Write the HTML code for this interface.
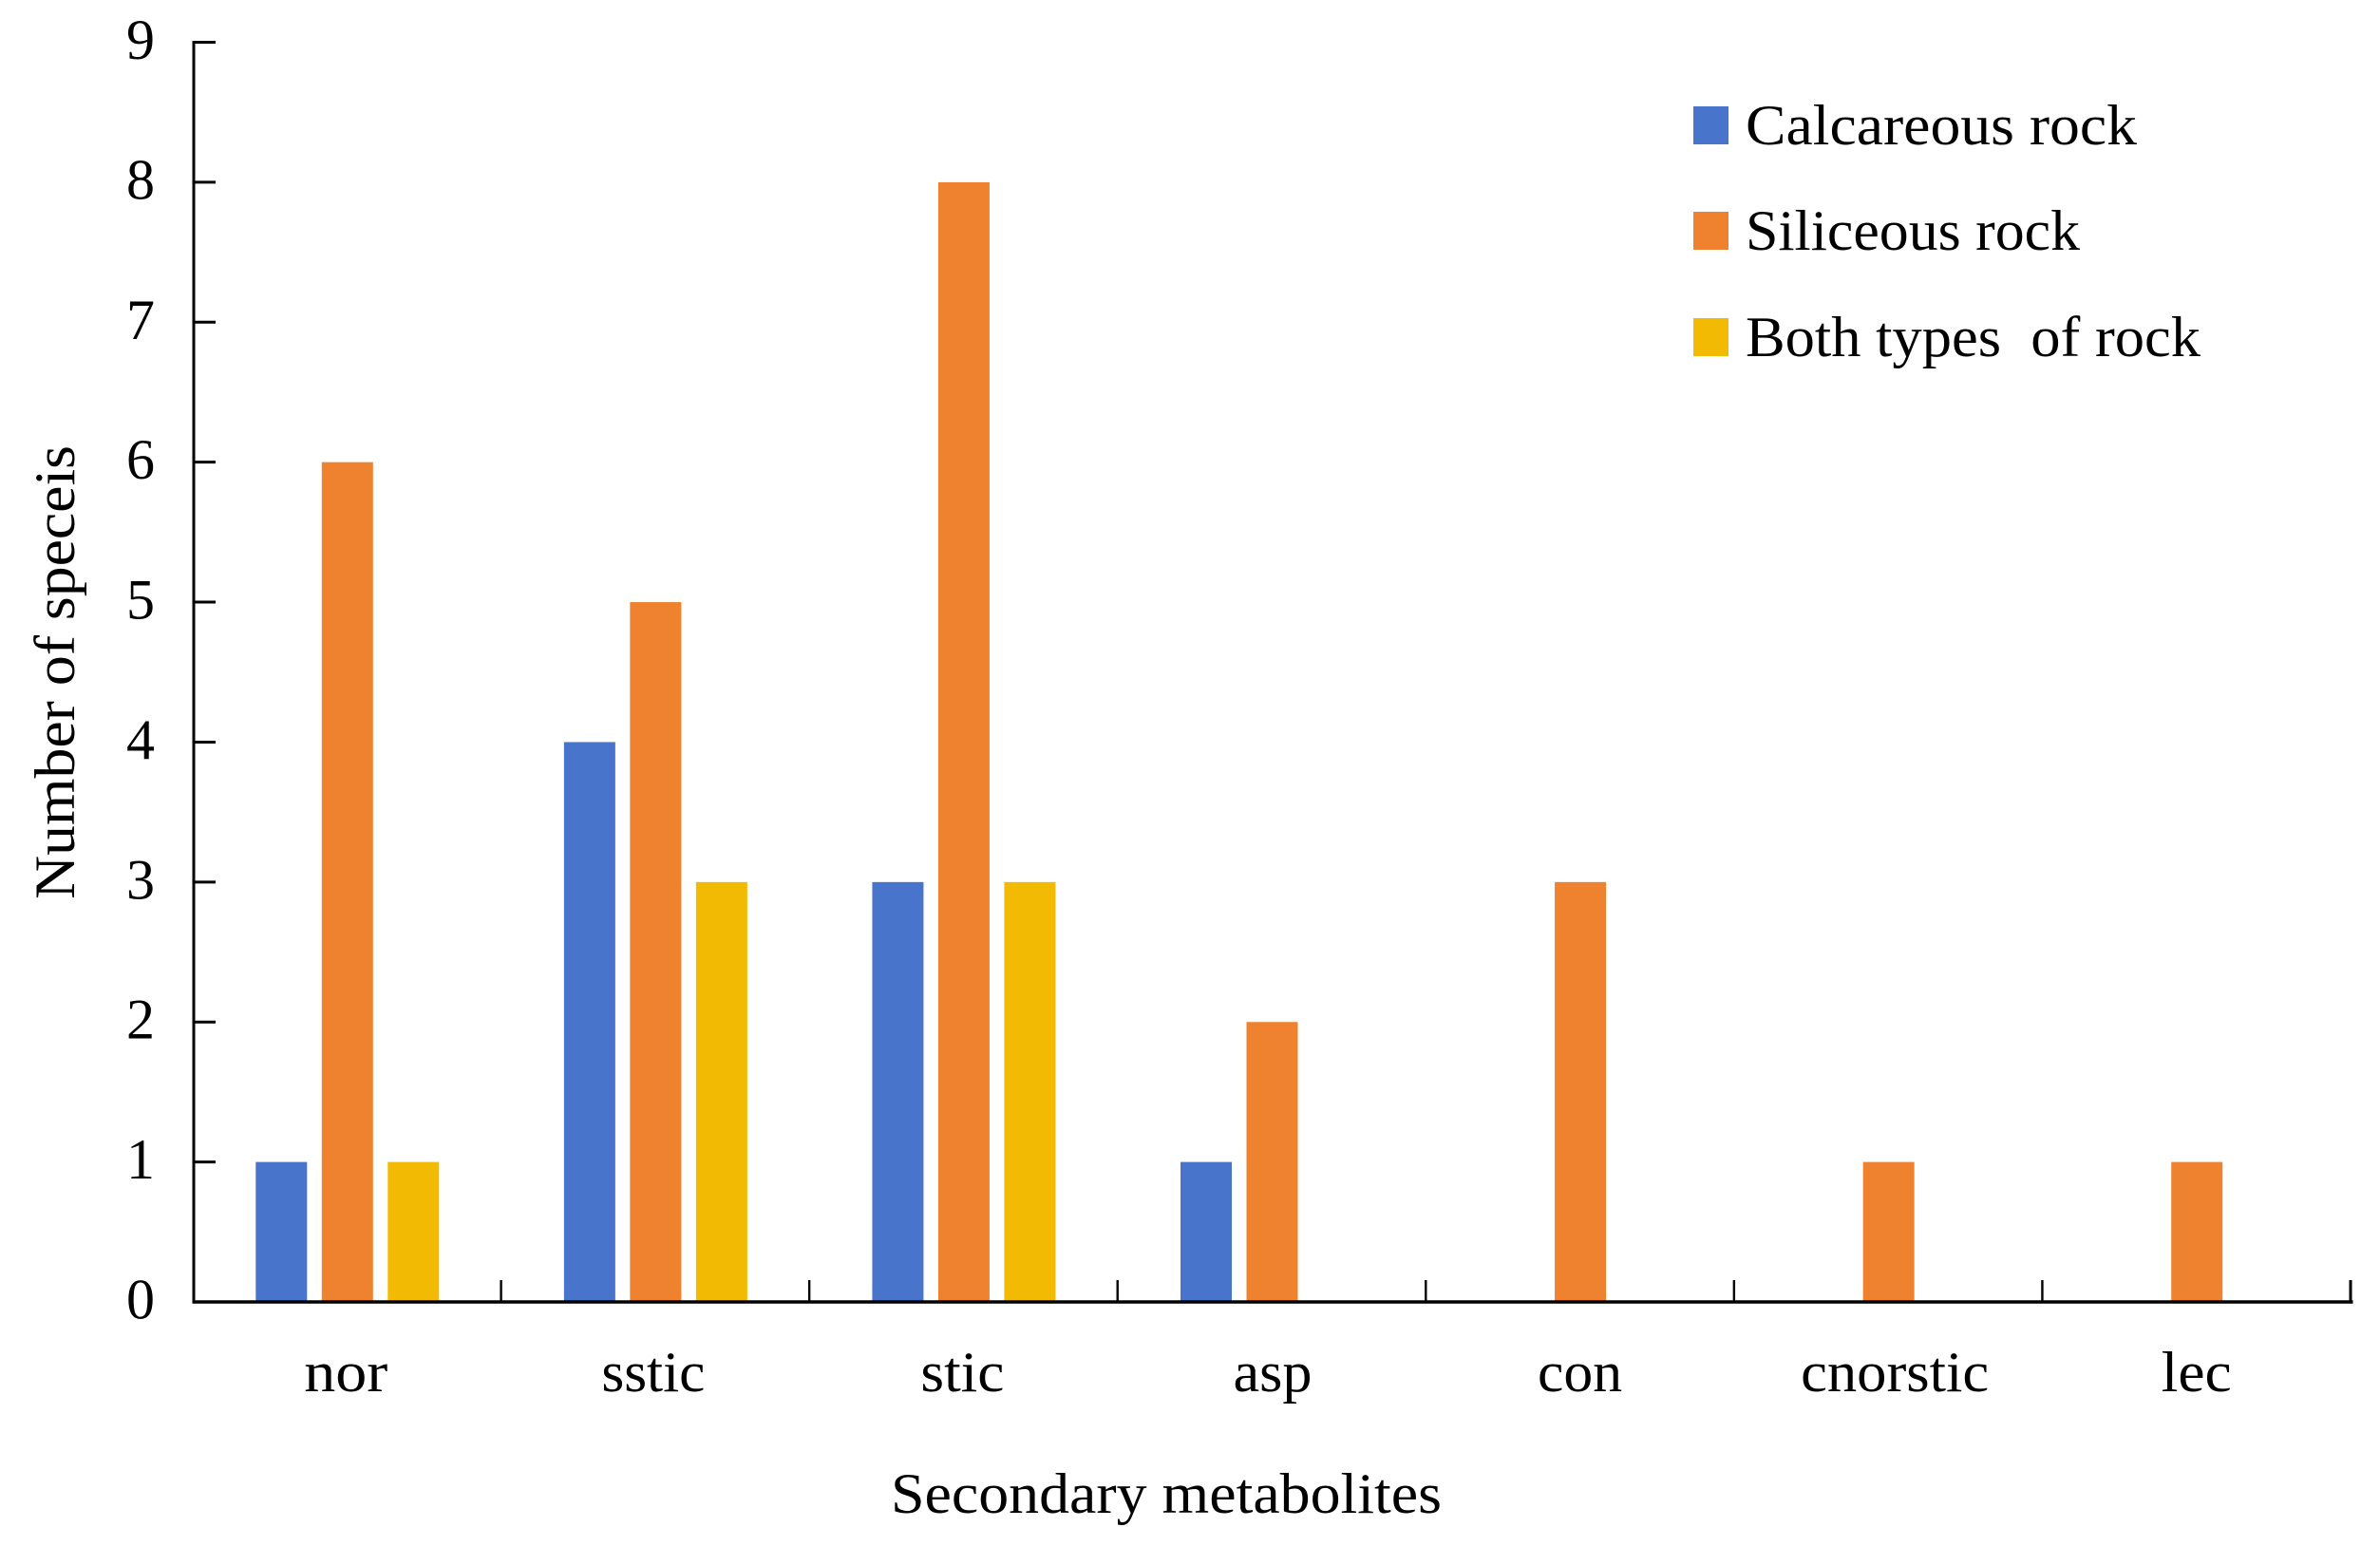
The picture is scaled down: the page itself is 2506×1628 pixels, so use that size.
<!DOCTYPE html>
<html lang="en">
<head>
<meta charset="utf-8">
<title>Secondary metabolites by rock type</title>
<style>
  html, body { margin: 0; padding: 0; background: #fff; }
  body { width: 2506px; height: 1628px; overflow: hidden; }
  svg { display: block; }
  text { font-family: "Liberation Serif", serif; font-size: 60px; fill: #000; white-space: pre; }
</style>
</head>
<body>
<svg id="chart" xmlns="http://www.w3.org/2000/svg" width="2506" height="1628" viewBox="0 0 2506 1628">
  <rect x="0" y="0" width="2506" height="1628" fill="#fff"/>
  <g id="bars"></g>
  <g id="axes"></g>
  <text transform="translate(78 947) rotate(-90)" textLength="478" lengthAdjust="spacingAndGlyphs">Number of speceis</text>
  <text x="938" y="1593" textLength="580" lengthAdjust="spacingAndGlyphs">Secondary metabolites</text>
  <g id="legend">
    <g>
      <rect x="1783" y="112" width="37" height="40" fill="#4874CB"/>
      <text x="1838" y="152" textLength="412" lengthAdjust="spacingAndGlyphs">Calcareous rock</text>
    </g>
    <g>
      <rect x="1783" y="223" width="37" height="40" fill="#EE822F"/>
      <text x="1838" y="263" textLength="352" lengthAdjust="spacingAndGlyphs">Siliceous rock</text>
    </g>
    <g>
      <rect x="1783" y="335" width="37" height="40" fill="#F2BA02"/>
      <text x="1838" y="375" textLength="479" lengthAdjust="spacingAndGlyphs">Both types  of rock</text>
    </g>
  </g>
</svg>
<script>
const categories = ['nor', 'sstic', 'stic', 'asp', 'con', 'cnorstic', 'lec'];
const calcareousRock = [1, 4, 3, 1, 0, 0, 0];
const siliceousRock = [6, 5, 8, 2, 3, 1, 1];
const bothTypesOfRock = [1, 3, 3, 0, 0, 0, 0];
const yTickLabels = ['0', '1', '2', '3', '4', '5', '6', '7', '8', '9'];

const NS = 'http://www.w3.org/2000/svg';
const plotLeft = 204, plotRight = 2476, plotBottom = 1371, plotTop = 44.5;
const yMax = 9, barWidth = 54, barStep = 69.5;
const labelLayout = {
  nor: { width: 88, nudge: -2 },
  sstic: { width: 109, nudge: -3 },
  stic: { width: 88, nudge: -2 },
  asp: { width: 83, nudge: 0 },
  con: { width: 89, nudge: -1 },
  cnorstic: { width: 198, nudge: 6 },
  lec: { width: 74, nudge: -1 }
};
const yScale = function (v) { return plotBottom - (v / yMax) * (plotBottom - plotTop); };
const bandWidth = (plotRight - plotLeft) / categories.length;
const xCenter = function (i) { return plotLeft + bandWidth * (i + 0.5); };

const barsGroup = document.getElementById('bars');
const axesGroup = document.getElementById('axes');

function drawSeries(values, color, offset, seriesName) {
  values.forEach(function (v, i) {
    const r = document.createElementNS(NS, 'rect');
    r.setAttribute('x', xCenter(i) + offset * barStep - barWidth / 2 - 0.5);
    r.setAttribute('y', yScale(v));
    r.setAttribute('width', barWidth);
    r.setAttribute('height', plotBottom - yScale(v));
    r.setAttribute('fill', color);
    
    
    barsGroup.appendChild(r);
  });
}
drawSeries(calcareousRock, '#4874CB', -1, 'calcareous-rock');
drawSeries(siliceousRock, '#EE822F', 0, 'siliceous-rock');
drawSeries(bothTypesOfRock, '#F2BA02', 1, 'both-types-of-rock');

function makeLine(x1, y1, x2, y2, w) {
  const l = document.createElementNS(NS, 'line');
  l.setAttribute('x1', x1);
  l.setAttribute('y1', y1);
  l.setAttribute('x2', x2);
  l.setAttribute('y2', y2);
  l.setAttribute('stroke', '#000');
  l.setAttribute('stroke-width', w);
  axesGroup.appendChild(l);
  return l;
}

const yAxisLine = makeLine(plotLeft, plotTop - 1.5, plotLeft, plotBottom + 1.5, 3);


const xAxisLine = makeLine(plotLeft - 1.5, plotBottom, plotRight + 1.5, plotBottom, 3.4);



yTickLabels.forEach(function (label, i) {
  const y = yScale(Number(label));
  if (i > 0) {
    const t = makeLine(plotLeft, y, plotLeft + 23, y, 3);
    
    
  }
  const txt = document.createElementNS(NS, 'text');
  txt.setAttribute('x', 148);
  txt.setAttribute('y', y + 17.5);
  txt.setAttribute('text-anchor', 'middle');
  
  
  txt.textContent = label;
  axesGroup.appendChild(txt);
});

categories.forEach(function (name, i) {
  const right = plotLeft + bandWidth * (i + 1) - 1;
  const t = makeLine(right, plotBottom - 23, right, plotBottom, i === categories.length - 1 ? 3 : 2.4);
  
  
  const layout = labelLayout[name];
  const txt = document.createElementNS(NS, 'text');
  txt.setAttribute('x', xCenter(i) + layout.nudge);
  txt.setAttribute('y', 1465);
  txt.setAttribute('text-anchor', 'middle');
  txt.setAttribute('textLength', layout.width);
  txt.setAttribute('lengthAdjust', 'spacingAndGlyphs');
  
  
  txt.textContent = name;
  axesGroup.appendChild(txt);
});
</script>
</body>
</html>
